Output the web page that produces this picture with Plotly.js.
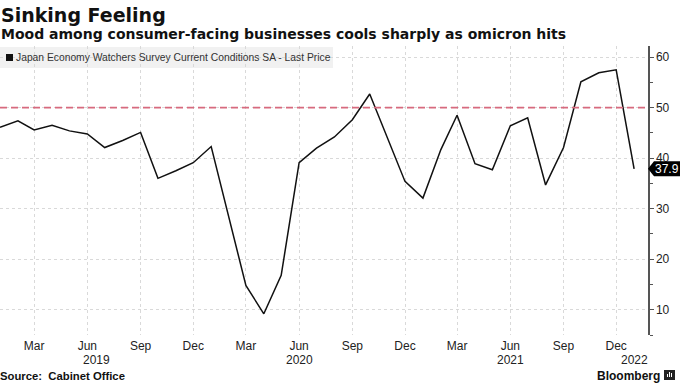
<!DOCTYPE html>
<html>
<head>
<meta charset="utf-8">
<script src="https://cdn.plot.ly/plotly-3.0.1.min.js"></script>
<style>
html,body{margin:0;padding:0;background:#fff;}
#chart{width:680px;height:383px;}
</style>
</head>
<body>
<div id="chart"></div>
<script>
// Data
const months = [
  '2019-01-01','2019-02-01','2019-03-01','2019-04-01','2019-05-01','2019-06-01',
  '2019-07-01','2019-08-01','2019-09-01','2019-10-01','2019-11-01','2019-12-01',
  '2020-01-01','2020-02-01','2020-03-01','2020-04-01','2020-05-01','2020-06-01',
  '2020-07-01','2020-08-01','2020-09-01','2020-10-01','2020-11-01','2020-12-01',
  '2021-01-01','2021-02-01','2021-03-01','2021-04-01','2021-05-01','2021-06-01',
  '2021-07-01','2021-08-01','2021-09-01','2021-10-01','2021-11-01','2021-12-01',
  '2022-01-01'
];
const currentConditions = [
  46.1, 47.4, 45.6, 46.5, 45.4, 44.8, 42.1, 43.5, 45.1, 36.0, 37.5, 39.1,
  42.3, 28.4, 14.8, 9.2, 16.8, 39.1, 42.0, 44.2, 47.6, 52.7, 44.0, 35.4,
  32.1, 41.7, 48.5, 38.9, 37.7, 46.4, 48.0, 34.7, 42.1, 55.1, 56.9, 57.5,
  37.9
];
const seriesName = 'Japan Economy Watchers Survey Current Conditions SA - Last Price';
const thresholdValue = 50;
const lastValue = 37.9;
const xTickDates = ['2019-03-01','2019-06-01','2019-09-01','2019-12-01',
  '2020-03-01','2020-06-01','2020-09-01','2020-12-01',
  '2021-03-01','2021-06-01','2021-09-01','2021-12-01'];
const xTickLabels = ['Mar','Jun','Sep','Dec','Mar','Jun','Sep','Dec','Mar','Jun','Sep','Dec'];
const yearLabels = ['2019','2020','2021','2022'];
const yearLabelDates = ['2019-06-16','2020-06-01','2021-06-01','2022-01-01'];
const titleText = 'Sinking Feeling';
const subtitleText = 'Mood among consumer-facing businesses cools sharply as omicron hits';
const sourceText = 'Source:  Cabinet Office';

const sans = 'Liberation Sans, Arial, sans-serif';
const boldTitle = 'DejaVu Sans, Verdana, sans-serif';

const trace = {
  x: months, y: currentConditions, type: 'scatter', mode: 'lines',
  line: {color: '#111', width: 1.5}, showlegend: false, hoverinfo: 'skip'
};

const annotations = [
  {text: '<b>' + titleText + '</b>', xref: 'paper', yref: 'paper', x: 0, y: 1,
   xanchor: 'left', yanchor: 'middle', xshift: -1, yshift: 31, showarrow: false,
   font: {family: boldTitle, size: 19, color: '#111'}},
  {text: '<b>' + subtitleText + '</b>', xref: 'paper', yref: 'paper', x: 0, y: 1,
   xanchor: 'left', yanchor: 'middle', xshift: -1, yshift: 12, showarrow: false,
   font: {family: boldTitle, size: 14, color: '#111'}},
  {text: seriesName, xref: 'paper', yref: 'paper', x: 0, y: 1,
   xanchor: 'left', yanchor: 'middle', xshift: 14, yshift: -11.5, showarrow: false,
   font: {family: sans, size: 10.3, color: '#333'}},
  {text: '<b>' + sourceText + '</b>', xref: 'paper', yref: 'paper', x: 0, y: 0,
   xanchor: 'left', yanchor: 'middle', xshift: -2, yshift: -41, showarrow: false,
   font: {family: sans, size: 11.3, color: '#111'}},
  {text: '<b>Bloomberg</b>', xref: 'paper', yref: 'paper', x: 1, y: 0,
   xanchor: 'right', yanchor: 'middle', xshift: 14, yshift: -41, showarrow: false,
   font: {family: sans, size: 12, color: '#111'}},
  {text: lastValue.toFixed(1), xref: 'paper', yref: 'y', x: 1, y: lastValue,
   xanchor: 'left', yanchor: 'middle', xshift: 5, showarrow: false,
   font: {family: sans, size: 12, color: '#fff'}}
];
yearLabels.forEach((t, i) => {
  annotations.push({text: t, xref: 'x', yref: 'paper', x: yearLabelDates[i], y: 0,
    xanchor: 'center', yanchor: 'middle', yshift: -25, showarrow: false,
    font: {family: sans, size: 12, color: '#222'}});
});

const shapes = [
  // legend background
  {type: 'rect', xref: 'paper', yref: 'paper', xsizemode: 'pixel', ysizemode: 'pixel',
   xanchor: 0, yanchor: 1, x0: 0, x1: 333, y0: -1, y1: -22,
   fillcolor: '#f1f1f1', line: {width: 0}, layer: 'below'},
  // legend swatch
  {type: 'rect', xref: 'paper', yref: 'paper', xsizemode: 'pixel', ysizemode: 'pixel',
   xanchor: 0, yanchor: 1, x0: 6, x1: 13, y0: -8, y1: -15,
   fillcolor: '#111', line: {width: 0}},
  // threshold line
  {type: 'line', xref: 'paper', yref: 'y', x0: 0, x1: 1, y0: thresholdValue, y1: thresholdValue,
   line: {color: '#d76a7e', width: 1.6, dash: '7px,4px'}},
  // last value tag
  {type: 'path', xref: 'paper', yref: 'y', xsizemode: 'pixel', ysizemode: 'pixel',
   xanchor: 1, yanchor: lastValue,
   path: 'M 0 0 L 6 7.5 L 40 7.5 L 40 -7.5 L 6 -7.5 Z',
   fillcolor: '#000', line: {width: 0}},
  // Bloomberg logo square
  {type: 'rect', xref: 'paper', yref: 'paper', xsizemode: 'pixel', ysizemode: 'pixel',
   xanchor: 1, yanchor: 0, x0: 16, x1: 27, y0: -35, y1: -45,
   fillcolor: '#222', line: {width: 0}},
  {type: 'rect', xref: 'paper', yref: 'paper', xsizemode: 'pixel', ysizemode: 'pixel',
   xanchor: 1, yanchor: 0, x0: 19, x1: 20, y0: -39, y1: -42,
   fillcolor: '#fff', line: {width: 0}},
  {type: 'rect', xref: 'paper', yref: 'paper', xsizemode: 'pixel', ysizemode: 'pixel',
   xanchor: 1, yanchor: 0, x0: 21, x1: 22, y0: -37, y1: -42,
   fillcolor: '#fff', line: {width: 0}},
  {type: 'rect', xref: 'paper', yref: 'paper', xsizemode: 'pixel', ysizemode: 'pixel',
   xanchor: 1, yanchor: 0, x0: 23, x1: 24, y0: -38, y1: -42,
   fillcolor: '#fff', line: {width: 0}}
];

const layout = {
  width: 680, height: 383,
  margin: {l: 0, r: 31.7, t: 46, b: 48, pad: 0},
  paper_bgcolor: '#fff', plot_bgcolor: '#fff',
  xaxis: {
    type: 'date', range: ['2019-01-01', '2022-01-25'],
    tickmode: 'array', tickvals: xTickDates, ticktext: xTickLabels,
    showgrid: true, gridcolor: '#d9d9d9', griddash: 'dot', gridwidth: 1,
    showline: false, zeroline: false, ticks: '', ticklabelstandoff: 2,
    tickfont: {family: sans, size: 12, color: '#222'}
  },
  yaxis: {
    side: 'right', range: [5, 62.2],
    tickmode: 'linear', tick0: 0, dtick: 10,
    showgrid: true, gridcolor: '#d9d9d9', griddash: 'dot', gridwidth: 1,
    showline: true, linecolor: '#555', linewidth: 1.5,
    ticks: 'outside', ticklen: 4, tickcolor: '#555', tickwidth: 1,
    minor: {ticks: 'outside', ticklen: 3, tickcolor: '#555', dtick: 5, tick0: 0, showgrid: false},
    zeroline: false,
    tickfont: {family: sans, size: 12, color: '#222'}
  },
  annotations: annotations,
  shapes: shapes
};

Plotly.newPlot('chart', [trace], layout, {staticPlot: true, displayModeBar: false});
</script>
</body>
</html>
